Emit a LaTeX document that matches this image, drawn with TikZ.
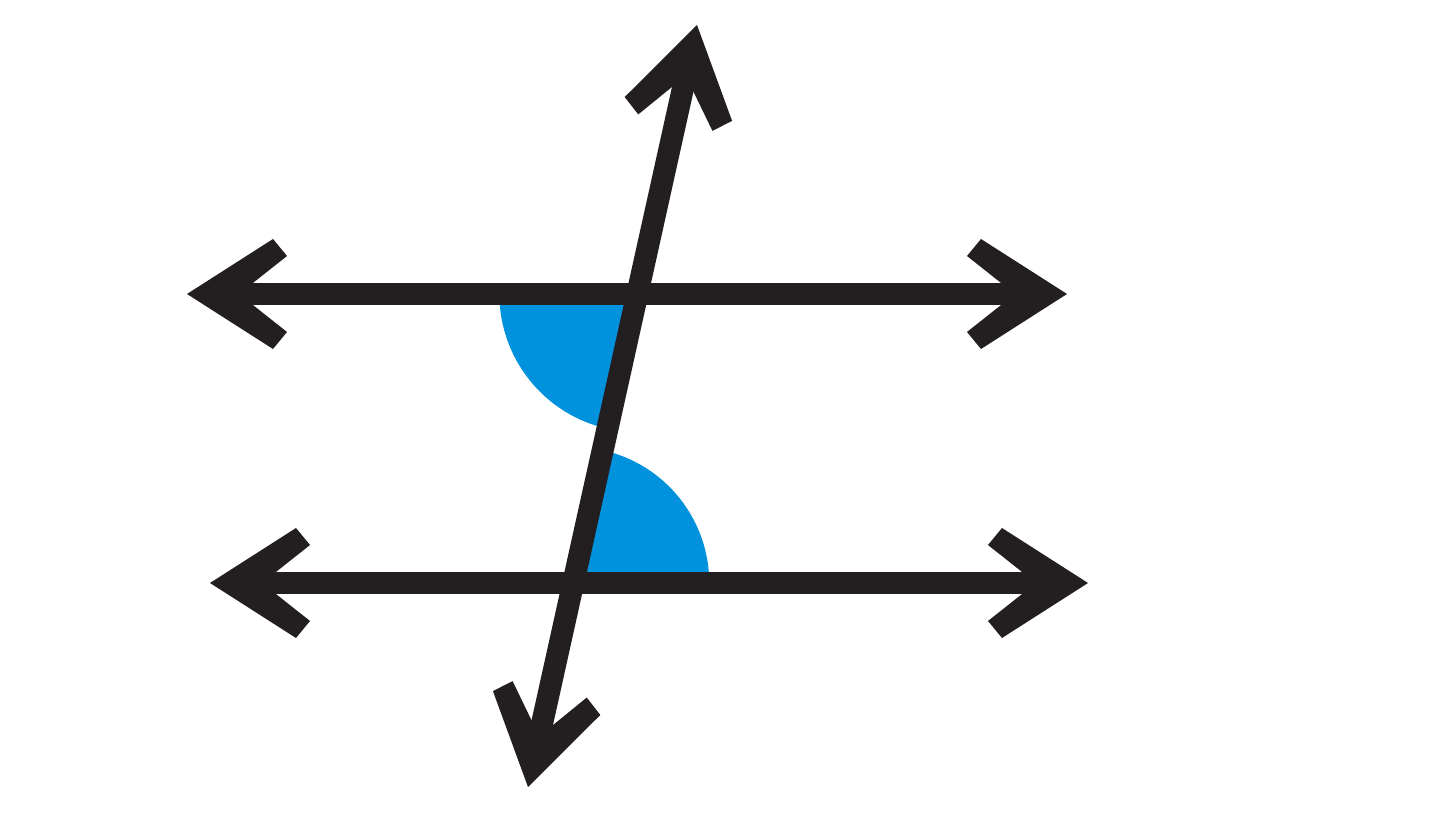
\documentclass[tikz,border=0pt]{standalone}
\usepackage{xcolor}
\usepackage{tikz}
\usetikzlibrary{calc}

\definecolor{angleblue}{RGB}{0,146,221}
\definecolor{inkblack}{RGB}{35,31,32}

\tikzset{
    line/.style={line width=0.22cm, line cap=butt, color=inkblack},
    head/.style={fill=inkblack},
    angle/.style={fill=angleblue}
}

\begin{document}
\begin{tikzpicture}
    \useasboundingbox (0,0) rectangle (14.4,8.37);

    % End points of the lines
    \coordinate (topL) at (1.87,5.43);
    \coordinate (topR) at (10.67,5.43);
    \coordinate (botL) at (2.10,2.54);
    \coordinate (botR) at (10.88,2.54);
    \coordinate (transT) at (6.97,8.12);
    \coordinate (transB) at (5.28,0.50);

    % Crossing points
    \coordinate (P) at (intersection of topL--topR and transT--transB);
    \coordinate (Q) at (intersection of botL--botR and transT--transB);

    % Alternate interior angles
    \fill[angle] (P) -- ++(180:1.38) arc (180:257.5:1.38) -- cycle;
    \fill[angle] (Q) -- ++(0:1.36) arc (0:77.5:1.36) -- cycle;

    % Parallel lines and transversal
    \draw[line] ($(topL)!0.45cm!(topR)$) -- ($(topR)!0.45cm!(topL)$);
    \draw[line] ($(botL)!0.45cm!(botR)$) -- ($(botR)!0.45cm!(botL)$);
    \draw[line] ($(transB)!0.45cm!(transT)$) -- ($(transT)!0.45cm!(transB)$);

    % Arrowheads
    \foreach \a/\b in {topL/topR, topR/topL, botL/botR, botR/botL, transT/transB, transB/transT} {
        \fill[head] (\a) -- ($(\a)!1.021cm!32.6:(\b)$) -- ($(\a)!1.070cm!20.8:(\b)$)
            -- ($(\a)!0.52cm!(\b)$)
            -- ($(\a)!1.070cm!-20.8:(\b)$) -- ($(\a)!1.021cm!-32.6:(\b)$) -- cycle;
    }

\end{tikzpicture}
\end{document}
